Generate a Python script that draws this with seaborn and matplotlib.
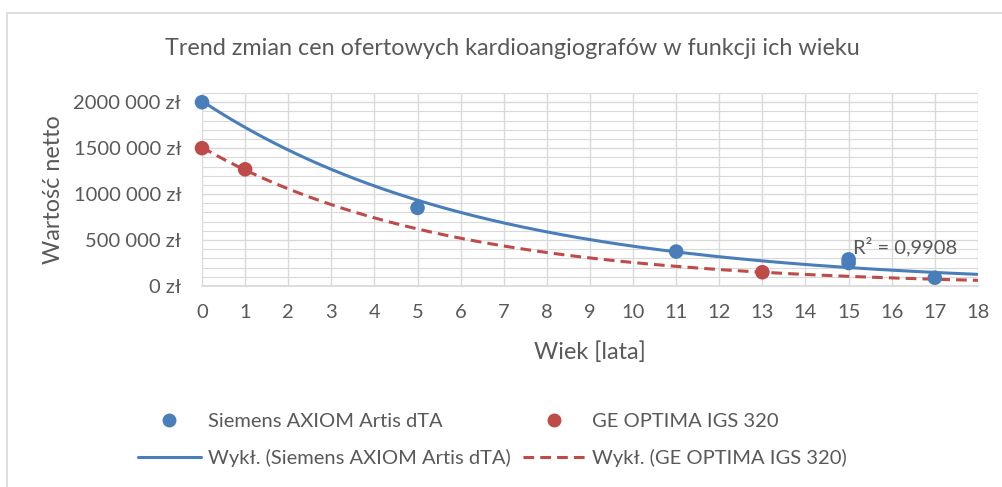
import numpy as np
import pandas as pd
import matplotlib.pyplot as plt
import seaborn as sns
from matplotlib.lines import Line2D
from matplotlib.patches import Rectangle
from matplotlib.ticker import MultipleLocator

# data
siemens_age = [0, 5, 11, 15, 15, 17]
siemens_value = [2000000, 850000, 375000, 290000, 250000, 90000]
ge_age = [0, 1, 13]
ge_value = [1500000, 1270000, 150000]

siemens_name = "Siemens AXIOM Artis dTA"
ge_name = "GE OPTIMA IGS 320"
r2_label = "R² = 0,9908"

x_ticks = list(range(0, 19))
y_ticks = [0, 500000, 1000000, 1500000, 2000000]
y_tick_labels = ["0 zł", "500 000 zł", "1000 000 zł", "1500 000 zł", "2000 000 zł"]

BLUE = "#4A7EBB"
RED = "#BE4B48"
GRID = "#D9D9D9"
TEXT = "#595959"
DASH = (0, (3.5, 2.0))

sns.set_theme(style="white")
plt.rcParams["font.family"] = ["Lato", "DejaVu Sans"]

points = pd.concat([
    pd.DataFrame({"wiek": siemens_age, "wartosc": siemens_value, "seria": siemens_name}),
    pd.DataFrame({"wiek": ge_age, "wartosc": ge_value, "seria": ge_name}),
])


def exp_trend(x, y):
    # exponential trendline like Excel: fit ln(y) = ln(a) + b*x
    b, ln_a = np.polyfit(x, np.log(y), 1)
    xs = np.linspace(0, 18, 200)
    return pd.DataFrame({"wiek": xs, "wartosc": np.exp(ln_a) * np.exp(b * xs)})


trend_s = exp_trend(siemens_age, siemens_value)
trend_g = exp_trend(ge_age, ge_value)

fig = plt.figure(figsize=(10.03, 4.87), dpi=100)
ax = fig.add_axes([0.2014, 0.4127, 0.7736, 0.3963])

sns.lineplot(data=trend_s, x="wiek", y="wartosc", ax=ax, color=BLUE, lw=2.2)
sns.lineplot(data=trend_g, x="wiek", y="wartosc", ax=ax, color=RED, lw=2.2,
             linestyle=DASH)
sns.scatterplot(data=points, x="wiek", y="wartosc", hue="seria", ax=ax,
                palette={siemens_name: BLUE, ge_name: RED}, s=110,
                edgecolor="none", legend=False, clip_on=False, zorder=5)

ax.set_xlim(0, 18)
ax.set_ylim(0, 2100000)
ax.set_xticks(x_ticks)
ax.set_yticks(y_ticks)
ax.set_yticklabels(y_tick_labels)
ax.yaxis.set_minor_locator(MultipleLocator(100000))
ax.grid(True, which="major", color=GRID, lw=1.0)
ax.grid(True, which="minor", axis="y", color=GRID, lw=0.8)
ax.set_axisbelow(True)
for side in ["top", "right", "left"]:
    ax.spines[side].set_visible(False)
ax.spines["bottom"].set_color(GRID)
ax.tick_params(axis="both", which="both", length=0, labelsize=14.5, colors=TEXT)
ax.tick_params(axis="y", pad=15)
ax.tick_params(axis="x", pad=13)

ax.set_xlabel("Wiek [lata]", fontsize=16.8, color=TEXT)
ax.set_ylabel("Wartość netto", fontsize=16.8, color=TEXT)
ax.xaxis.set_label_coords(0.5, 1 - (352 - 93) / 193, transform=ax.transAxes)
ax.xaxis.label.set_va("center")
ax.yaxis.set_label_coords((53 - 202) / 776, 0.5, transform=ax.transAxes)
ax.yaxis.label.set_va("center")
fig.text(0.511, 0.901, "Trend zmian cen ofertowych kardioangiografów w funkcji ich wieku",
         ha="center", va="center", fontsize=16.8, color=TEXT)
ax.text(15.1, 430000, r2_label, fontsize=14.5, color=TEXT, va="center", ha="left")

handles = [
    Line2D([], [], ls="none", marker="o", ms=9, color=BLUE, label=siemens_name),
    Line2D([], [], color=BLUE, lw=2.2, label=f"Wykł. ({siemens_name})"),
    Line2D([], [], ls="none", marker="o", ms=9, color=RED, label=ge_name),
    Line2D([], [], color=RED, lw=2.2, ls=DASH, label=f"Wykł. ({ge_name})"),
]
fig.legend(handles=handles, ncol=2, loc="center", bbox_to_anchor=(0.491, 0.0965),
           frameon=False, fontsize=14.5, labelcolor=TEXT, handlelength=3.1,
           handletextpad=0.35, columnspacing=0.6, labelspacing=0.95,
           borderaxespad=0, borderpad=0)

# chart area border
fig.add_artist(Rectangle((7 / 1003, -0.1), 1.2, 1 - 13 / 487 + 0.1,
                         transform=fig.transFigure, fill=False, ec=GRID, lw=1.2))

fig.savefig("out.png", dpi=100)
